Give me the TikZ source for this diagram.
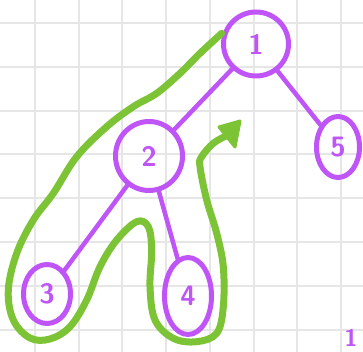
\documentclass[tikz,border=0pt]{standalone}
\usetikzlibrary{shapes.geometric,arrows.meta}
\definecolor{pur}{HTML}{BF55F7}
\definecolor{grn}{HTML}{7CC436}
\definecolor{gridc}{HTML}{E6E6E6}
\begin{document}
\begin{tikzpicture}[x=1pt,y=-1pt,
  treenode/.style={draw=pur, line width=5pt, ellipse, inner sep=0pt, text=pur,
    font=\sffamily\bfseries\fontsize{28}{28}\selectfont},
  edge/.style={draw=pur, line width=4.5pt, line cap=round},
  tour/.style={draw=grn, line width=7pt, line cap=round, line join=round}]
\useasboundingbox (0,0) rectangle (363,352);
\fill[white] (0,0) rectangle (363,352);
\foreach \x in {35,78.7,...,363} \draw[gridc, line width=2pt] (\x,0) -- (\x,352);
\foreach \y in {23,66.8,...,352} \draw[gridc, line width=2pt] (0,\y) -- (363,\y);
% nodes
\node[treenode, minimum width=65pt, minimum height=64pt] (n1) at (256,44) {1};
\node[treenode, minimum width=67pt, minimum height=69pt] (n2) at (149,156) {2};
\node[treenode, minimum width=43pt, minimum height=61pt] (n5) at (338,147) {5};
\node[treenode, minimum width=47pt, minimum height=59pt] (n3) at (47,294) {3};
\node[treenode, minimum width=47pt, minimum height=77pt] (n4) at (188,296) {4};
\node[text=pur, font=\sffamily\bfseries\fontsize{24}{24}\selectfont] (lbl) at (351,338) {1};
% edges
\draw[edge] (n2) -- (n1);
\draw[edge] (n1) -- (n5);
\draw[edge] (n2) -- (n3);
\draw[edge] (n2) -- (n4);
% traversal
\draw[tour] plot[smooth, tension=0.6] coordinates {
(221.7,33.3) (200,53.3) (180,73.3) (156.7,93.3) (133.3,106.7) (106.7,126.7)
(76.7,156.7) (53.3,193.3) (33.3,220) (16.7,253.3) (8.3,290) (13.3,320) (30,338)
(50,339) (70,326.7) (86.7,300) (100,266.7) (116.7,240) (136.7,221.7) (148.3,226.7)
(151.7,250) (150,286.7) (155,320) (173.3,338.3) (196.7,341.7) (216.7,333.3)
(223.3,306.7) (223.3,266.7) (216.7,233.3) (206.7,200) (200,166.7) (201.7,156.7)
(213.3,143.3) (226,136)};
\filldraw[grn, line width=3pt, line join=round] (219,127) -- (240,121) -- (235,147) -- cycle;
\end{tikzpicture}
\end{document}
